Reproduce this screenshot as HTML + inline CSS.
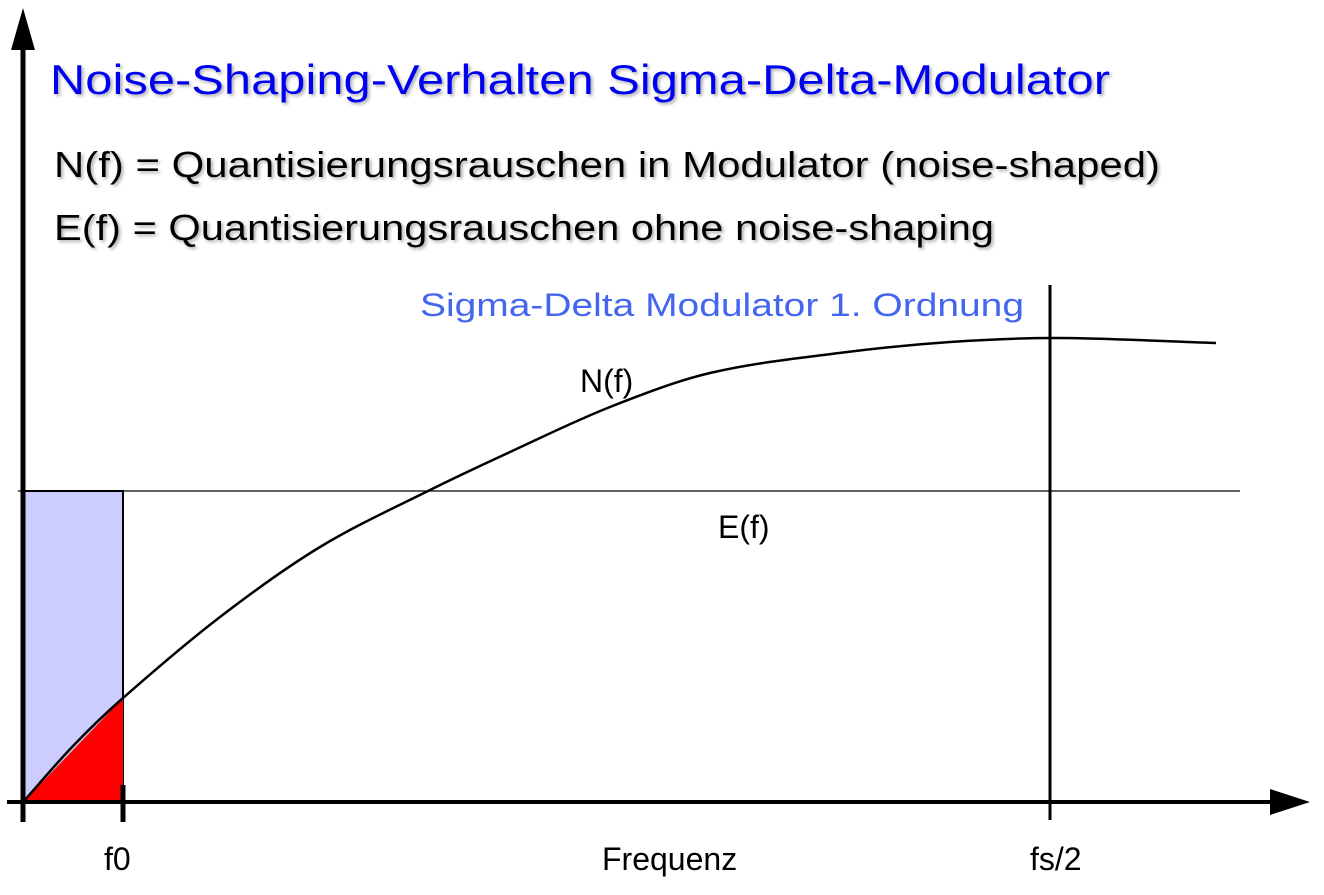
<!DOCTYPE html>
<html><head><meta charset="utf-8"><style>
body{margin:0;background:#fff;width:1324px;height:890px;overflow:hidden}
svg text{font-family:"Liberation Sans",sans-serif}
</style></head><body>
<svg width="1324" height="890" viewBox="0 0 1324 890">
<defs><filter id="sh" x="-5%" y="-20%" width="110%" height="150%"><feDropShadow dx="2" dy="2" stdDeviation="1.5" flood-color="#999" flood-opacity="0.8"/></filter></defs>
<text x="50" y="94" font-size="42" fill="#0000f0" filter="url(#sh)" textLength="1060" lengthAdjust="spacingAndGlyphs">Noise-Shaping-Verhalten Sigma-Delta-Modulator</text>
<text x="54" y="177" font-size="36" fill="#000" filter="url(#sh)" textLength="1106" lengthAdjust="spacingAndGlyphs">N(f) = Quantisierungsrauschen in Modulator (noise-shaped)</text>
<text x="54" y="240" font-size="36" fill="#000" filter="url(#sh)" textLength="940" lengthAdjust="spacingAndGlyphs">E(f) = Quantisierungsrauschen ohne noise-shaping</text>
<text x="420" y="316" font-size="32" fill="#4466ee" textLength="604" lengthAdjust="spacingAndGlyphs">Sigma-Delta Modulator 1. Ordnung</text>
<g id="plot"></g>
<text x="580" y="392" font-size="32">N(f)</text>
<text x="718" y="538" font-size="32">E(f)</text>
<text x="104" y="870" font-size="32">f0</text>
<text x="602" y="870" font-size="32">Frequenz</text>
<text x="1030" y="870" font-size="32">fs/2</text>
</svg>
<script>
const curveX=[0,50,100,197,297,407,487,587,687,816,927,1034,1193];
const curveY=[0,56,104,185,255,312,350,395,429,449,460,464,459];
const eLevel=311;
const f0=100;
const fsHalf=1027;
const ox=23, oy=802;
const sx=v=>ox+v, sy=v=>oy-v;
const g=document.getElementById('plot');
const NS='http://www.w3.org/2000/svg';
function mk(t,a){const e=document.createElementNS(NS,t);for(const k in a)e.setAttribute(k,a[k]);g.appendChild(e);return e;}
let r=mk('rect',{x:sx(0),y:sy(eLevel),width:f0,height:eLevel,fill:'#ccccff',stroke:'#000','stroke-width':2});


let tri=mk('polygon',{points:`${sx(0)},${sy(0)} ${sx(f0)},${sy(curveY[2])} ${sx(f0)},${sy(0)}`,fill:'#ff0000'});


let el=mk('line',{x1:18,y1:sy(eLevel),x2:1240,y2:sy(eLevel),stroke:'#000','stroke-width':1.2});


let pts=curveX.map((x,i)=>[sx(x),sy(curveY[i])]);
let d=`M${pts[0][0]},${pts[0][1]}`;
for(let i=0;i<pts.length-1;i++){const p0=pts[i-1]||pts[i],p1=pts[i],p2=pts[i+1],p3=pts[i+2]||p2;
const t1=(p2[0]-p1[0])/(p2[0]-p0[0]||1), t2=(p2[0]-p1[0])/(p3[0]-p1[0]||1);
d+=` C${p1[0]+(p2[0]-p0[0])*t1/3},${p1[1]+(p2[1]-p0[1])*t1/3} ${p2[0]-(p3[0]-p1[0])*t2/3},${p2[1]-(p3[1]-p1[1])*t2/3} ${p2[0]},${p2[1]}`;}
let c=mk('path',{d,fill:'none',stroke:'#000','stroke-width':2.5});


let fl=mk('line',{x1:sx(fsHalf),y1:285,x2:sx(fsHalf),y2:820,stroke:'#000','stroke-width':3});


let ft=mk('line',{x1:sx(f0),y1:785,x2:sx(f0),y2:822,stroke:'#000','stroke-width':5});


let xa=mk('line',{x1:7,y1:oy,x2:1280,y2:oy,stroke:'#000','stroke-width':4});


let xh=mk('polygon',{points:`1310,${oy} 1270,${oy-13} 1270,${oy+13}`,fill:'#000'});


let ya=mk('line',{x1:ox,y1:40,x2:ox,y2:822,stroke:'#000','stroke-width':5});


let yh=mk('polygon',{points:`${ox},8 ${ox-12},50 ${ox+12},50`,fill:'#000'});


</script>
</body></html>
